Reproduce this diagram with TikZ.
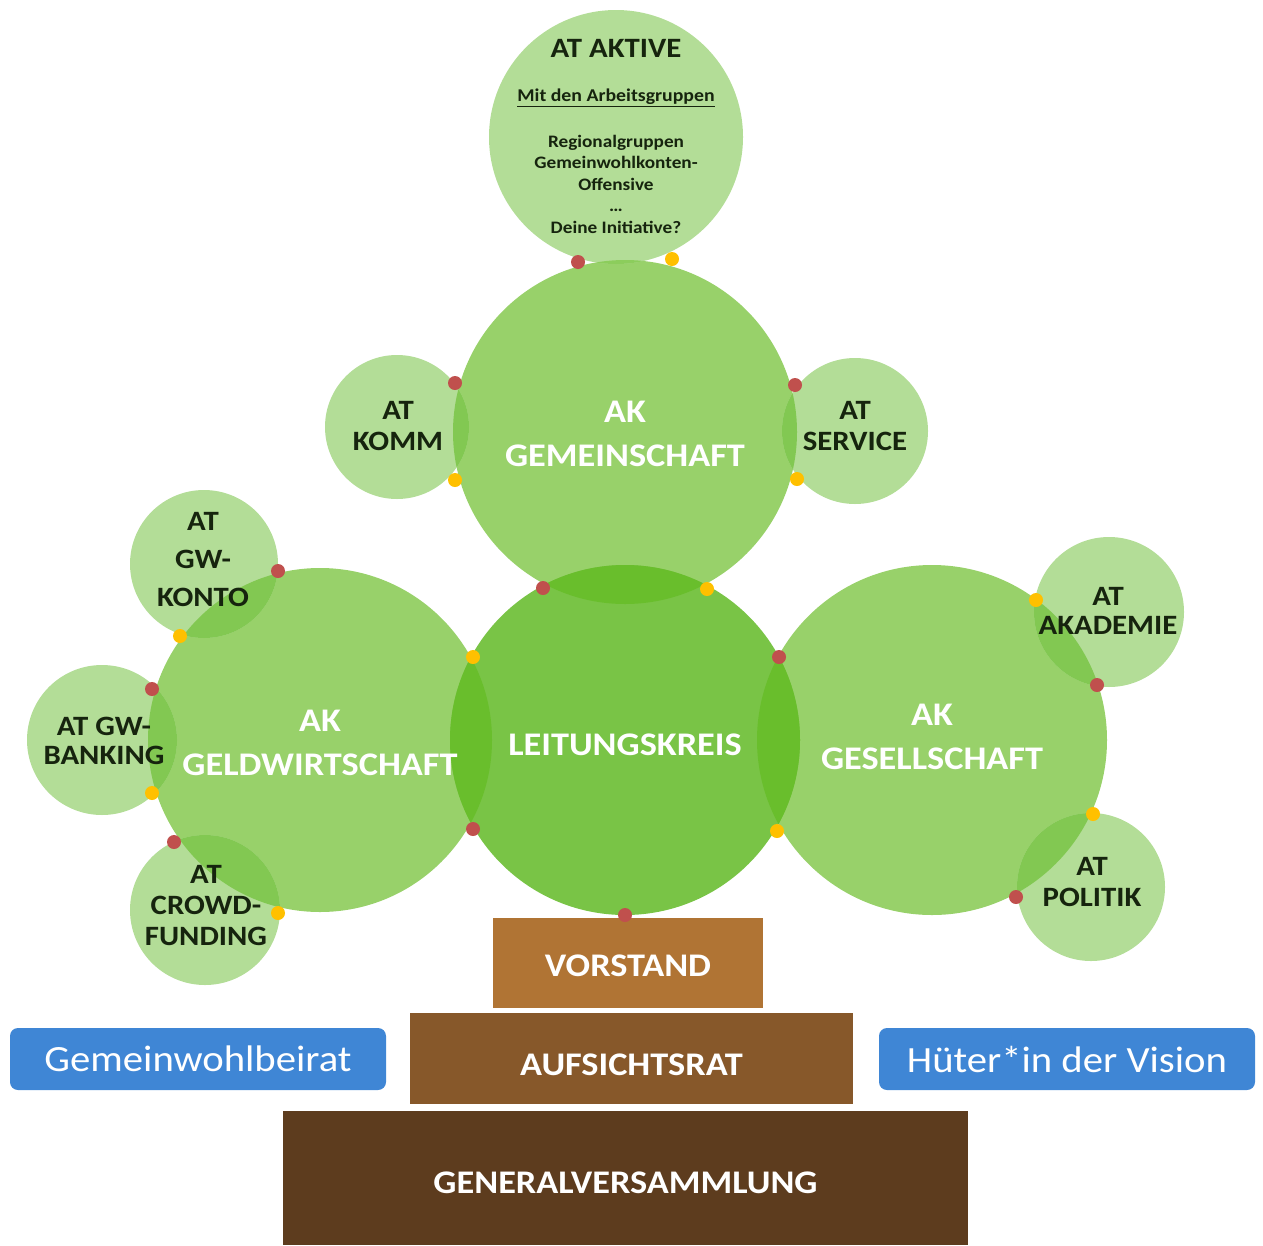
\documentclass[tikz,border=0pt]{standalone}
\usepackage{fontspec}
\setmainfont{Carlito}[FakeStretch=1.1]
\definecolor{atfill}{HTML}{B3DD97}
\definecolor{akfill}{HTML}{98D16A}
\definecolor{lkfill}{HTML}{79C446}
\definecolor{atlens}{HTML}{82C852}
\definecolor{lklens}{HTML}{69BE2C}
\definecolor{toplens}{HTML}{8CCD5C}
\definecolor{dotred}{HTML}{C0504D}
\definecolor{dotyellow}{HTML}{FFC000}
\definecolor{brownA}{HTML}{B07434}
\definecolor{brownB}{HTML}{87582A}
\definecolor{brownC}{HTML}{5D3C1E}
\definecolor{bluebox}{HTML}{3F86D5}
\definecolor{attext}{HTML}{16240E}
\begin{document}
\begin{tikzpicture}[x=1pt,y=-1pt,
  disc/.style={circle,inner sep=0pt,outer sep=0pt,draw=none},
  atdisc/.style={disc,fill=atfill},
  akdisc/.style={disc,fill=akfill},
  lkdisc/.style={disc,fill=lkfill},
  attxt/.style={align=center,text=attext,font=\bfseries\fontsize{28}{#1}\selectfont},
  attxt/.default=31,
  aktxt/.style={align=center,text=white,font=\bfseries\fontsize{33}{44}\selectfont},
  dotR/.style={disc,fill=dotred,minimum size=14pt},
  dotY/.style={disc,fill=dotyellow,minimum size=14pt},
  tier/.style={draw=none,inner sep=0pt,text=white,font=\bfseries\fontsize{33}{40}\selectfont},
  sidebox/.style={draw=none,fill=bluebox,rounded corners=8pt,inner sep=0pt,
    minimum width=376pt,minimum height=62pt,text=white,font=\fontsize{37}{42}\selectfont}]
\useasboundingbox (0,0) rectangle (1263,1245);

% working circles
\node[akdisc,minimum size=344pt] (geld)   at (320,740) {};
\node[akdisc,minimum size=350pt] (gesell) at (932,740) {};
\node[akdisc,minimum size=344pt] (gemein) at (625,432) {};
\node[lkdisc,minimum size=350pt] (leit)   at (625,740) {};
\node[atdisc,minimum size=254pt] (aktive) at (616,137) {};
\node[atdisc,minimum size=144pt] (komm)   at (397,427) {};
\node[atdisc,minimum size=146pt] (service) at (855,431) {};
\node[atdisc,minimum size=148pt] (konto)  at (204,564) {};
\node[atdisc,minimum size=150pt] (banking) at (102,740) {};
\node[atdisc,minimum size=150pt] (crowd)  at (205,910) {};
\node[atdisc,minimum size=150pt] (akademie) at (1109,612) {};
\node[atdisc,minimum size=148pt] (politik) at (1091,887) {};

% overlaps of the circles
\begin{scope}
  \clip (leit.center) circle[radius=175];
  \fill[lklens] (geld.center) circle[radius=172];
  \fill[lklens] (gesell.center) circle[radius=175];
  \fill[lklens] (gemein.center) circle[radius=172];
\end{scope}
\begin{scope}
  \clip (gemein.center) circle[radius=172];
  \fill[toplens] (aktive.center) circle[radius=127];
  \fill[atlens] (komm.center) circle[radius=72];
  \fill[atlens] (service.center) circle[radius=73];
\end{scope}
\begin{scope}
  \clip (geld.center) circle[radius=172];
  \fill[atlens] (konto.center) circle[radius=74];
  \fill[atlens] (banking.center) circle[radius=75];
  \fill[atlens] (crowd.center) circle[radius=75];
\end{scope}
\begin{scope}
  \clip (gesell.center) circle[radius=175];
  \fill[atlens] (akademie.center) circle[radius=75];
  \fill[atlens] (politik.center) circle[radius=74];
\end{scope}

% contact points
\node[dotR] (d1)  at (578,262) {};
\node[dotY] (d2)  at (672,259) {};
\node[dotR] (d3)  at (455,383) {};
\node[dotY] (d4)  at (455,480) {};
\node[dotR] (d5)  at (795,385) {};
\node[dotY] (d6)  at (797,479) {};
\node[dotR] (d7)  at (543,588) {};
\node[dotY] (d8)  at (707,589) {};
\node[dotY] (d9)  at (473,657) {};
\node[dotR] (d10) at (473,829) {};
\node[dotR] (d11) at (779,657) {};
\node[dotY] (d12) at (777,831) {};
\node[dotR] (d13) at (278,571) {};
\node[dotY] (d14) at (180,636) {};
\node[dotR] (d15) at (152,689) {};
\node[dotY] (d16) at (152,793) {};
\node[dotR] (d17) at (174,842) {};
\node[dotY] (d18) at (278,913) {};
\node[dotY] (d19) at (1036,600) {};
\node[dotR] (d20) at (1097,685) {};
\node[dotY] (d21) at (1093,814) {};
\node[dotR] (d22) at (1016,897) {};

% labels of the circles
\node[attxt] (tkomm) at (398,426) {AT\\KOMM};
\node[attxt] (tservice) at (855,426) {AT\\SERVICE};
\node[attxt=38] (tkonto) at (203,560) {AT\\GW-\\KONTO};
\node[attxt=29] (tbanking) at (104,741) {AT GW-\\BANKING};
\node[attxt=31] (tcrowd) at (206,906) {AT\\CROWD-\\FUNDING};
\node[attxt=29] (takademie) at (1108,611) {AT\\AKADEMIE};
\node[attxt] (tpolitik) at (1092,882) {AT\\POLITIK};
\node[aktxt] (tgemein) at (625,434) {AK\\GEMEINSCHAFT};
\node[aktxt] (tgeld) at (320,743) {AK\\GELDWIRTSCHAFT};
\node[aktxt] (tgesell) at (932,737) {AK\\GESELLSCHAFT};
\node[aktxt] (tleit) at (625,745) {LEITUNGSKREIS};
\node[text=attext,font=\bfseries\fontsize{28}{32}\selectfont] (taktive) at (616,48) {AT AKTIVE};
\node[text=attext,font=\bfseries\fontsize{18}{22}\selectfont] (tgruppen) at (616,98) {\underline{Mit den Arbeitsgruppen}};
\node[align=center,text=attext,font=\bfseries\fontsize{17.5}{21.5}\selectfont] (tliste) at (616,184)
  {Regionalgruppen\\Gemeinwohlkonten-\\Offensive\\\dots\\Deine Initiative?};

% foundation tiers
\node[tier,fill=brownA,minimum width=270pt,minimum height=90pt] (vorstand) at (628,963) {};
\node[tier] (tvorstand) at (628,966) {VORSTAND};
\node[tier,fill=brownB,minimum width=443pt,minimum height=91pt] (aufsicht) at (631.5,1058.5) {};
\node[tier] (taufsicht) at (631.5,1065) {AUFSICHTSRAT};
\node[tier,fill=brownC,minimum width=685pt,minimum height=134pt] (general) at (625.5,1178) {};
\node[tier] (tgeneral) at (625.5,1183) {GENERALVERSAMMLUNG};
\node[dotR] (d23) at (625,915) {};

% side boxes
\node[sidebox] (beirat) at (198,1059) {Gemeinwohlbeirat};
\node[sidebox] (vision) at (1067,1059) {Hüter*in der Vision};
\end{tikzpicture}
\end{document}
